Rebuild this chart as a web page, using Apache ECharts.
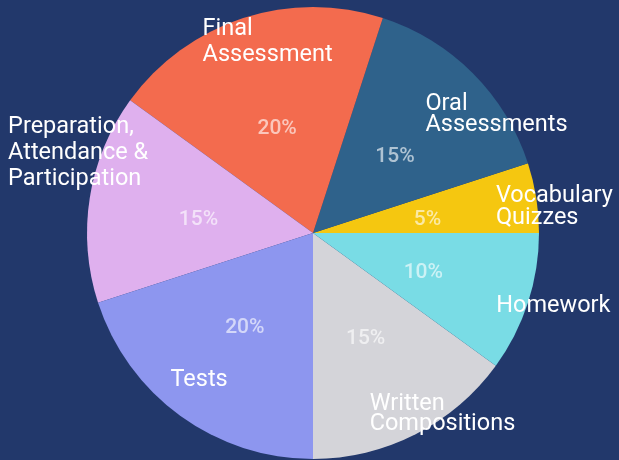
<!DOCTYPE html>
<html>
<head>
<meta charset="utf-8">
<script src="https://cdn.jsdelivr.net/npm/echarts@6/dist/echarts.min.js"></script>
<style>
html,body{margin:0;padding:0;background:#22386b;}
#c{width:619px;height:460px;}
</style>
</head>
<body>
<div id="c"></div>
<script>
// Data
var categories = ["Vocabulary\nQuizzes", "Oral\nAssessments", "Final\nAssessment", "Preparation,\nAttendance &\nParticipation", "Tests", "Written\nCompositions", "Homework"];
var values = [5, 15, 20, 15, 20, 15, 10];
var percentLabels = ["5%", "15%", "20%", "15%", "20%", "15%", "10%"];

// Styling (kept apart from data)
var colors = ["#f5c710", "#2f628b", "#f36b4e", "#dfb0ee", "#8d96ef", "#d4d4d9", "#79dce5"];
var nameOffsets = [[-23, 7], [-35, 29], [-46, 7], [-99, -47], [-20, -22], [-38, -5], [-15, 9]];
var nameLineHeights = [22, 21, 26, 26, 21, 20, 21];
var percentShift = [5, 6, 6, 5, 1, 2, 4];

var chart = echarts.init(document.getElementById('c'), null, {renderer: 'canvas'});

var baseData = categories.map(function (c, i) {
  return {name: c, value: values[i], itemStyle: {color: colors[i]}};
});
var nameData = categories.map(function (c, i) {
  return {
    name: c, value: values[i],
    itemStyle: {color: 'rgba(0,0,0,0)'},
    label: {lineHeight: nameLineHeights[i]}
  };
});

chart.setOption({
  backgroundColor: '#22386b',
  animation: false,
  series: [
    {
      type: 'pie',
      center: [313, 233],
      radius: [0, 226],
      startAngle: 0,
      clockwise: false,
      silent: true,
      data: baseData,
      itemStyle: {borderWidth: 0},
      label: {
        show: true,
        position: 'inside',
        formatter: function (p) { return percentLabels[p.dataIndex]; },
        color: 'rgba(255,255,255,0.62)',
        fontFamily: 'Roboto',
        fontSize: 21,
        fontWeight: 500
      },
      labelLine: {show: false},
      labelLayout: function (params) {
        return {dy: percentShift[params.dataIndex]};
      }
    },
    {
      type: 'pie',
      center: [313, 233],
      radius: [185, 226],
      startAngle: 0,
      clockwise: false,
      silent: true,
      data: nameData,
      itemStyle: {borderWidth: 0},
      label: {
        show: true,
        position: 'inside',
        formatter: '{b}',
        color: '#ffffff',
        fontFamily: 'Roboto',
        fontSize: 23.5,
        align: 'left'
      },
      labelLine: {show: false},
      labelLayout: function (params) {
        var o = nameOffsets[params.dataIndex];
        return {dx: o[0], dy: o[1], align: 'left', verticalAlign: 'middle'};
      }
    }
  ]
});
</script>
</body>
</html>
